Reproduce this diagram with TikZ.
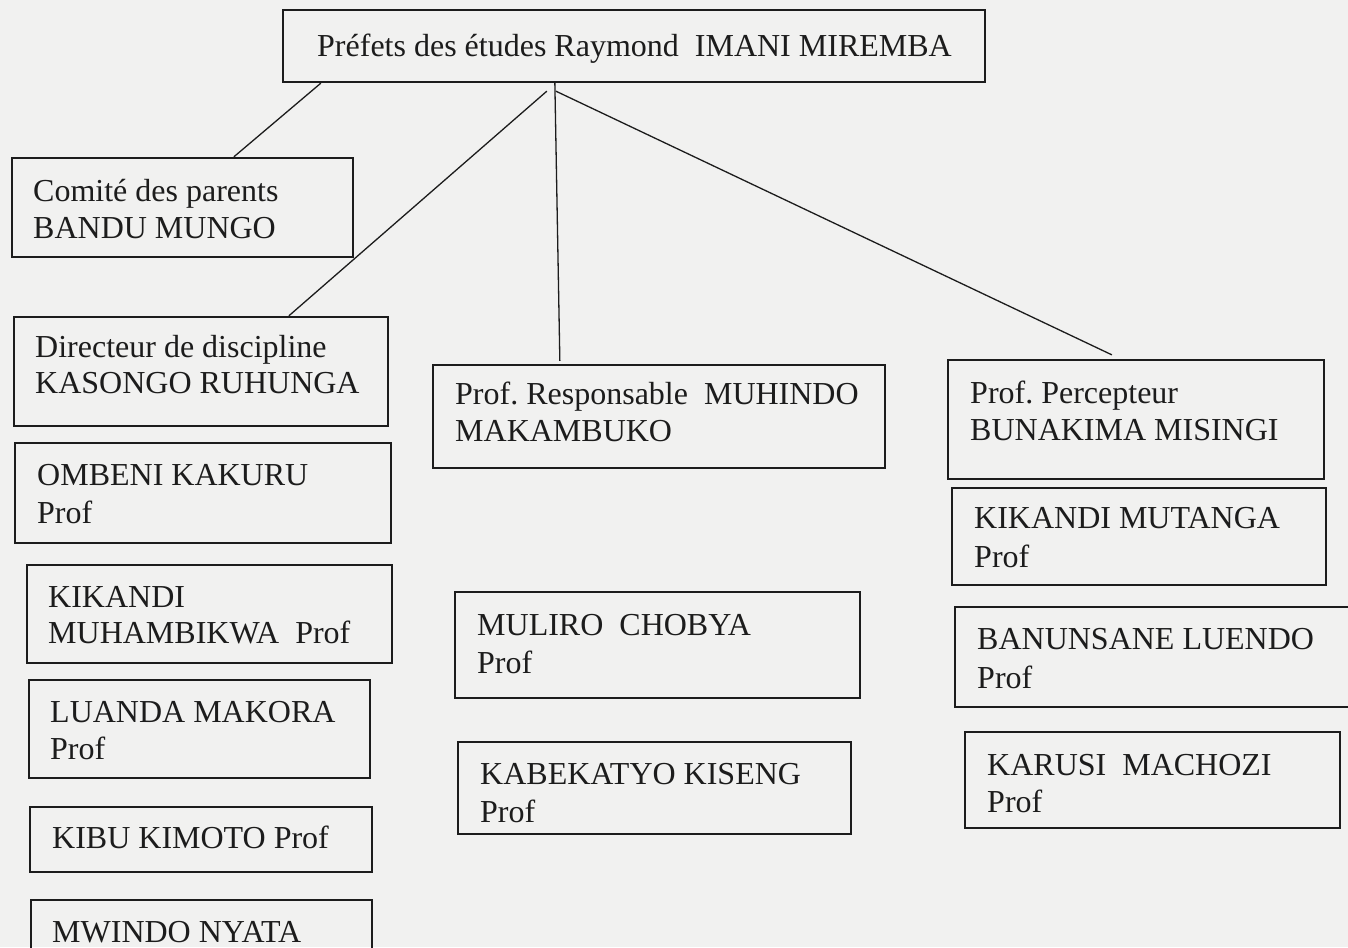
\documentclass[tikz,border=0pt]{standalone}
\usepackage{fontspec}
\setmainfont{Liberation Serif}
\usetikzlibrary{fit}
\definecolor{paper}{HTML}{F1F1F0}
\definecolor{ink}{HTML}{1C1C1C}
\tikzset{
  orgbox/.style={draw=ink, line width=2.3pt, inner sep=0pt, fill=none},
  orgtxt/.style={anchor=base west, inner sep=0pt, text=ink, font=\fontsize{32}{37}\selectfont},
  link/.style={draw=ink, line width=1.3pt}
}
\newcommand{\obox}[5]{\node[orgbox, fit={(#2,#3) (#4,#5)}] (#1) {};}
\newcommand{\otxt}[4]{\node[orgtxt] (#1) at (#2,#3) {#4};}
\frenchspacing
\begin{document}
\begin{tikzpicture}[x=1pt,y=-1pt]
\fill[paper] (0,0) rectangle (1348,947);
\useasboundingbox (0,0) rectangle (1348,947);
% boxes
\obox{prefet}{283}{10}{985}{82}
\obox{comite}{12}{158}{353}{257}
\obox{direct}{14}{317}{388}{426}
\obox{respons}{433}{365}{885}{468}
\obox{percep}{948}{360}{1324}{479}
\obox{ombeni}{15}{443}{391}{543}
\obox{kikandimu}{27}{565}{392}{663}
\obox{luanda}{29}{680}{370}{778}
\obox{kibu}{30}{807}{372}{872}
\obox{mwindo}{31}{900}{372}{965}
\obox{muliro}{455}{592}{860}{698}
\obox{kabek}{458}{742}{851}{834}
\obox{kikandimt}{952}{488}{1326}{585}
\obox{banun}{955}{607}{1360}{707}
\obox{karusi}{965}{732}{1340}{828}
% texts
\otxt{t0}{317}{57}{Préfets des études Raymond\ \ IMANI MIREMBA}
\otxt{t1a}{33}{201}{Comité des parents}
\otxt{t1b}{33}{238}{BANDU MUNGO}
\otxt{t2a}{35}{357}{Directeur de discipline}
\otxt{t2b}{35}{393}{KASONGO RUHUNGA}
\otxt{t3a}{455}{404}{Prof. Responsable\ \ MUHINDO}
\otxt{t3b}{455}{441}{MAKAMBUKO}
\otxt{t4a}{970}{403}{Prof. Percepteur}
\otxt{t4b}{970}{440}{BUNAKIMA MISINGI}
\otxt{t5a}{37}{485}{OMBENI KAKURU}
\otxt{t5b}{37}{523}{Prof}
\otxt{t6a}{48}{607}{KIKANDI}
\otxt{t6b}{48}{643}{MUHAMBIKWA\ \ Prof}
\otxt{t7a}{50}{722}{LUANDA MAKORA}
\otxt{t7b}{50}{759}{Prof}
\otxt{t8a}{52}{848}{KIBU KIMOTO Prof}
\otxt{t9a}{52}{942}{MWINDO NYATA}
\otxt{t10a}{477}{635}{MULIRO\ \ CHOBYA}
\otxt{t10b}{477}{673}{Prof}
\otxt{t11a}{480}{784}{KABEKATYO KISENG}
\otxt{t11b}{480}{822}{Prof}
\otxt{t12a}{974}{528}{KIKANDI MUTANGA}
\otxt{t12b}{974}{567}{Prof}
\otxt{t13a}{977}{649}{BANUNSANE LUENDO}
\otxt{t13b}{977}{688}{Prof}
\otxt{t14a}{987}{775}{KARUSI\ \ MACHOZI}
\otxt{t14b}{987}{812}{Prof}
% connectors
\draw[link] ([xshift=39pt]prefet.south west) -- ([xshift=223pt]comite.north west);
\draw[link] ([xshift=265pt,yshift=-8pt]prefet.south west) -- ([xshift=276pt]direct.north west);
\draw[link] ([xshift=273pt]prefet.south west) -- ([xshift=128pt,yshift=3pt]respons.north west);
\draw[link] ([xshift=274pt,yshift=-8pt]prefet.south west) -- ([xshift=165pt,yshift=4pt]percep.north west);
\end{tikzpicture}
\end{document}
